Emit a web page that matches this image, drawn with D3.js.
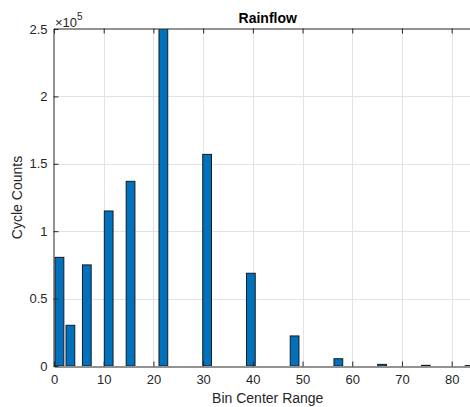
<!DOCTYPE html>
<meta charset="utf-8">
<style>
    body { margin: 0; background: #fff; }
    text { font-family: "Liberation Sans", Arial, sans-serif; fill: #262626; }
    .tick-label { font-size: 13px; }
    .axis-label { font-size: 14px; }
    .title { font-size: 14px; font-weight: bold; fill: #000; }
    .grid line { stroke: #e3e3e3; stroke-width: 1; }
    .bar { fill: #0072bd; stroke: #1a1a1a; stroke-width: 1; }
</style>
<script src="https://d3js.org/d3.v7.min.js"></script>
<svg width="470" height="407"></svg>
<script>
    // bin centers and cycle counts
    let binCenters = [1.1, 3.3, 6.6, 11, 15.4, 22, 30.8, 39.6, 48.4, 57.2, 66, 74.8, 83.6];
    let cycleCounts = [80600, 30200, 75000, 115000, 137000, 255000, 157000, 68800, 22300, 5400, 1200, 500, 300];
    let xTicks = [0, 10, 20, 30, 40, 50, 60, 70, 80];
    let yTicks = [0, 50000, 100000, 150000, 200000, 250000];
    let barWidth = 1.76;

    let svg = d3.select("svg");
    let plotLeft = 54, plotRight = 481.5, plotTop = 29, plotBottom = 366;

    let x = d3.scaleLinear().domain([0, 86]).range([plotLeft, plotRight]);
    let y = d3.scaleLinear().domain([0, 250000]).range([plotBottom, plotTop]);

    svg.append("clipPath").attr("id", "plot-clip")
        .append("rect")
        .attr("x", plotLeft).attr("y", plotTop)
        .attr("width", plotRight - plotLeft).attr("height", plotBottom - plotTop);

    // grid
    let grid = svg.append("g").attr("class", "grid");
    grid.selectAll(".vx").data(xTicks.slice(1)).enter().append("line")
        .attr("x1", d => Math.round(x(d)) + 0.5).attr("x2", d => Math.round(x(d)) + 0.5)
        .attr("y1", plotTop).attr("y2", plotBottom);
    grid.selectAll(".hy").data(yTicks.slice(1, -1)).enter().append("line")
        .attr("y1", d => Math.round(y(d)) + 0.5).attr("y2", d => Math.round(y(d)) + 0.5)
        .attr("x1", plotLeft).attr("x2", plotRight);

    // bars
    svg.append("g").attr("clip-path", "url(#plot-clip)")
        .selectAll("rect").data(binCenters).enter().append("rect")
        .attr("class", "bar")
        .attr("x", d => x(d - barWidth / 2))
        .attr("width", d => x(d + barWidth / 2) - x(d - barWidth / 2))
        .attr("y", (d, i) => y(cycleCounts[i]))
        .attr("height", (d, i) => plotBottom - y(cycleCounts[i]));

    // axes, MATLAB style with inward ticks and a box
    let xAxisBottom = d3.axisBottom(x).tickValues(xTicks).tickSizeInner(-5).tickSizeOuter(0).tickFormat(d3.format("d"));
    let xAxisTop = d3.axisTop(x).tickValues(xTicks).tickSizeInner(-5).tickSizeOuter(0).tickFormat("");
    let yAxisLeft = d3.axisLeft(y).tickValues(yTicks).tickSizeInner(-5).tickSizeOuter(0)
        .tickFormat(d => d3.format("~g")(d / 1e5));

    let gb = svg.append("g").attr("transform", "translate(0," + (plotBottom + 0.5) + ")").call(xAxisBottom);
    let gt = svg.append("g").attr("transform", "translate(0," + (plotTop - 0.5) + ")").call(xAxisTop);
    let gl = svg.append("g").attr("transform", "translate(" + (plotLeft - 0.5) + ",0)").call(yAxisLeft);

    [gb, gt, gl].forEach(function (g) {
        g.attr("font-size", null).attr("font-family", null);
        g.select(".domain").attr("stroke", "#262626");
        g.selectAll(".tick line").attr("stroke", "#262626");
        g.selectAll(".tick text").attr("class", "tick-label").attr("fill", "#262626");
    });
    gb.selectAll(".tick text").attr("y", 8);
    gl.selectAll(".tick text").attr("x", -6);

    // right edge of the box
    svg.append("line")
        .attr("x1", plotRight + 0.5).attr("x2", plotRight + 0.5)
        .attr("y1", plotTop - 0.5).attr("y2", plotBottom + 0.5)
        .attr("stroke", "#262626");

    // exponent
    let expo = svg.append("text").attr("class", "tick-label").attr("x", plotLeft + 1).attr("y", 27);
    expo.append("tspan").text("\u00d710");
    expo.append("tspan").attr("dy", -7).style("font-size", "10px").text("5");

    // titles
    svg.append("text").attr("class", "title")
        .attr("x", (plotLeft + plotRight) / 2).attr("y", 22.5)
        .attr("text-anchor", "middle").text("Rainflow");
    svg.append("text").attr("class", "axis-label")
        .attr("x", (plotLeft + plotRight) / 2).attr("y", 403)
        .attr("text-anchor", "middle").text("Bin Center Range");
    svg.append("text").attr("class", "axis-label")
        .attr("transform", "translate(22," + (plotTop + plotBottom) / 2 + ") rotate(-90)")
        .attr("text-anchor", "middle").text("Cycle Counts");
</script>
